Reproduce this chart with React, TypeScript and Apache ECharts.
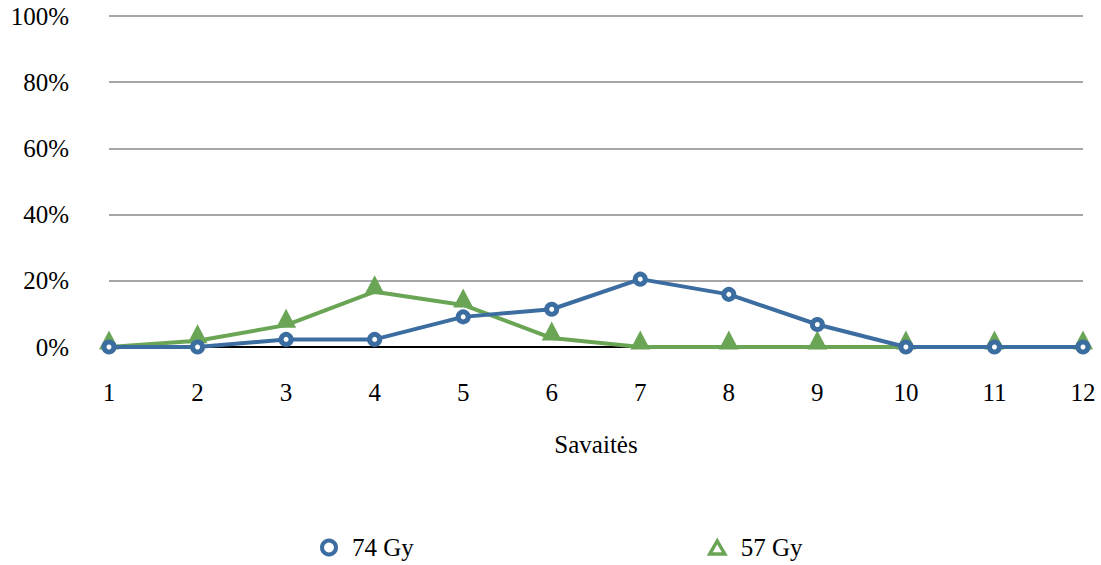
import React, { useEffect, useRef } from "react";
import * as echarts from "echarts";

// Weeks on the horizontal axis
const weeks = ["1", "2", "3", "4", "5", "6", "7", "8", "9", "10", "11", "12"];
// Share of patients per week (%)
const gy74 = [0, 0, 2.3, 2.3, 9.1, 11.4, 20.5, 15.9, 6.8, 0, 0, 0];
const gy57 = [0, 1.9, 6.6, 16.7, 12.7, 2.7, 0, 0, 0, 0, 0, 0];
const yTicks = [0, 20, 40, 60, 80, 100];

const BLUE = "#3c6da0";
const GREEN = "#6aa556";
const FONT = "Liberation Serif";
const FS = 25;

export default function App() {
  const ref = useRef<HTMLDivElement>(null);

  useEffect(() => {
    if (!ref.current) return;
    const chart = echarts.init(ref.current, undefined, { renderer: "svg" });
    const legendText = { fontFamily: FONT, fontSize: FS, color: "#000", padding: [0, 0, 0, 11] };
    chart.setOption({
      animation: false,
      backgroundColor: "#ffffff",
      textStyle: { fontFamily: FONT },
      grid: { left: 109, right: 18, top: 16, bottom: 218, containLabel: false },
      legend: [
        {
          data: [
            {
              name: "74 Gy",
              icon: "circle",
              itemStyle: { color: "#ffffff", borderColor: BLUE, borderWidth: 4 },
            },
          ],
          left: 315,
          top: 530,
          itemWidth: 14,
          itemHeight: 14,
          lineStyle: { width: 0, opacity: 0 },
          textStyle: legendText,
        },
        {
          data: [
            {
              name: "57 Gy",
              icon: "triangle",
              itemStyle: { color: "#ffffff", borderColor: GREEN, borderWidth: 3.5 },
            },
          ],
          left: 703,
          top: 530,
          itemWidth: 15,
          itemHeight: 13,
          lineStyle: { width: 0, opacity: 0 },
          textStyle: legendText,
        },
      ],
      xAxis: {
        type: "category",
        data: weeks,
        boundaryGap: false,
        name: "Savaitės",
        nameLocation: "middle",
        nameGap: 85,
        nameTextStyle: { fontFamily: FONT, fontSize: FS, color: "#000" },
        axisLine: { show: true, lineStyle: { color: "#000", width: 2 } },
        axisTick: { show: false },
        axisLabel: { margin: 33, fontFamily: FONT, fontSize: FS, color: "#000" },
        splitLine: { show: false },
      },
      yAxis: {
        type: "value",
        min: yTicks[0],
        max: yTicks[yTicks.length - 1],
        interval: 20,
        axisLine: { show: false },
        axisTick: { show: false },
        axisLabel: {
          margin: 40,
          fontFamily: FONT,
          fontSize: FS,
          color: "#000",
          formatter: (v: number) => `${v}%`,
        },
        splitLine: { show: true, lineStyle: { color: "#a6a6a6", width: 2 } },
      },
      series: [
        {
          name: "57 Gy",
          type: "line",
          data: gy57,
          z: 3,
          symbol: "triangle",
          symbolSize: [20, 19],
          symbolOffset: [0, -7],
          showAllSymbol: true,
          lineStyle: { color: GREEN, width: 4 },
          itemStyle: { color: GREEN, borderColor: GREEN, borderWidth: 0 },
        },
        {
          name: "74 Gy",
          type: "line",
          data: gy74,
          z: 4,
          symbol: "circle",
          symbolSize: 10,
          showAllSymbol: true,
          lineStyle: { color: BLUE, width: 4 },
          itemStyle: { color: "#ffffff", borderColor: BLUE, borderWidth: 5 },
        },
      ],
    });
    return () => chart.dispose();
  }, []);

  return <div ref={ref} style={{ width: 1101, height: 565, position: "absolute", left: 0, top: 0 }} />;
}
